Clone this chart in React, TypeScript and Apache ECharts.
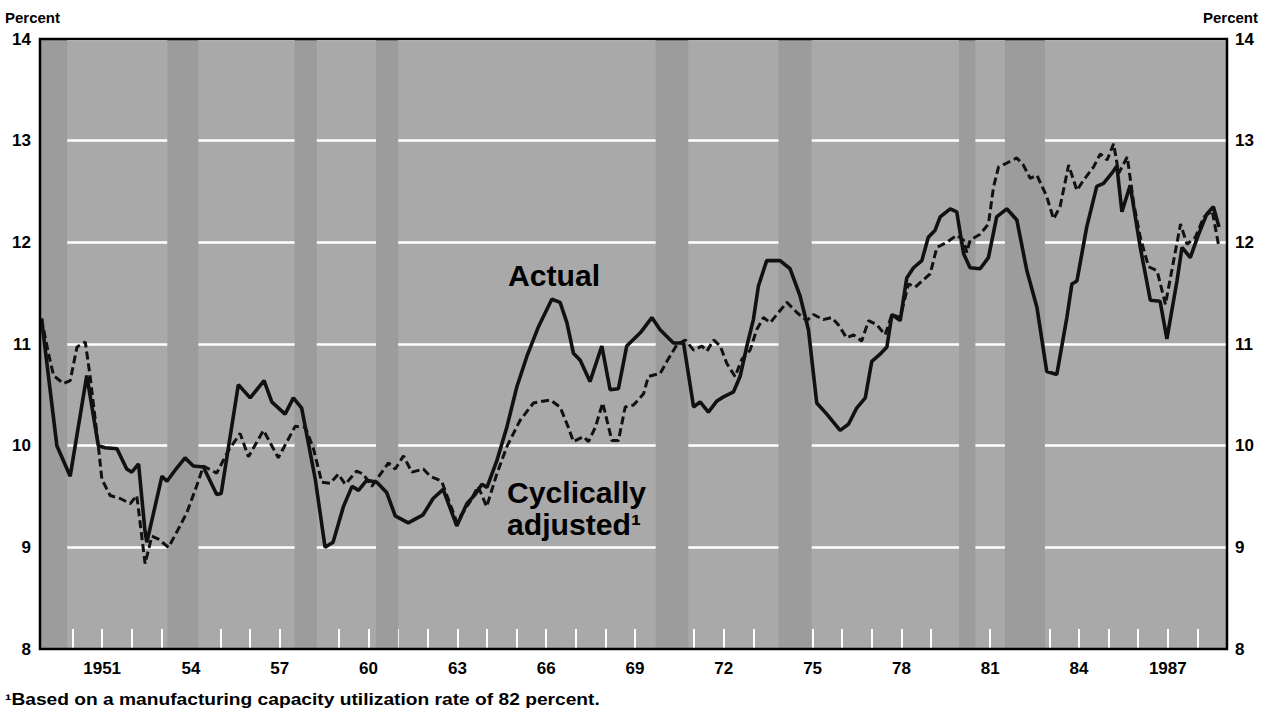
import React, { useEffect, useRef } from "react";
import * as echarts from "echarts";

// Actual series (percent): [year, value]
const actualSeries: [number, number][] = [
  [1948.95, 11.25], [1949.47, 10.0], [1949.92, 9.7], [1950.48, 10.69], [1950.87, 10.0],
  [1951.1, 9.98], [1951.5, 9.97], [1951.83, 9.77], [1952.0, 9.74], [1952.23, 9.82],
  [1952.45, 9.15], [1952.51, 9.05], [1953.02, 9.7], [1953.19, 9.65], [1953.52, 9.78],
  [1953.8, 9.88], [1954.08, 9.8], [1954.42, 9.79], [1954.87, 9.52], [1955.02, 9.53],
  [1955.6, 10.6], [1956.0, 10.47], [1956.47, 10.64], [1956.73, 10.43], [1957.18, 10.31],
  [1957.46, 10.47], [1957.74, 10.37], [1958.2, 9.67], [1958.53, 9.0], [1958.8, 9.05],
  [1959.15, 9.4], [1959.44, 9.6], [1959.66, 9.56], [1959.94, 9.66], [1960.28, 9.64],
  [1960.61, 9.54], [1960.9, 9.31], [1961.34, 9.24], [1961.84, 9.32], [1962.18, 9.48],
  [1962.52, 9.57], [1962.98, 9.21], [1963.32, 9.43], [1963.6, 9.52], [1963.83, 9.62],
  [1964.0, 9.59], [1964.33, 9.85], [1964.67, 10.18], [1965.01, 10.58], [1965.35, 10.88],
  [1965.74, 11.17], [1966.19, 11.44], [1966.47, 11.41], [1966.7, 11.21], [1966.92, 10.91],
  [1967.15, 10.84], [1967.48, 10.63], [1967.88, 10.98], [1968.16, 10.55], [1968.44, 10.56],
  [1968.72, 10.98], [1969.18, 11.11], [1969.57, 11.26], [1969.85, 11.14], [1970.3, 11.01],
  [1970.64, 11.01], [1970.98, 10.38], [1971.2, 10.43], [1971.48, 10.33], [1971.77, 10.44],
  [1971.99, 10.48], [1972.33, 10.53], [1972.55, 10.68], [1972.78, 10.98], [1973.0, 11.24],
  [1973.17, 11.57], [1973.45, 11.82], [1973.9, 11.82], [1974.24, 11.74], [1974.58, 11.47],
  [1974.86, 11.14], [1975.14, 10.42], [1975.48, 10.31], [1975.93, 10.15], [1976.21, 10.21],
  [1976.49, 10.37], [1976.78, 10.47], [1977.0, 10.83], [1977.28, 10.9], [1977.51, 10.97],
  [1977.68, 11.29], [1977.96, 11.23], [1978.18, 11.65], [1978.41, 11.75], [1978.69, 11.82],
  [1978.91, 12.05], [1979.14, 12.12], [1979.31, 12.25], [1979.65, 12.33], [1979.87, 12.3],
  [1980.1, 11.89], [1980.32, 11.75], [1980.66, 11.74], [1980.94, 11.85], [1981.22, 12.25],
  [1981.56, 12.33], [1981.9, 12.22], [1982.24, 11.72], [1982.58, 11.36], [1982.91, 10.73],
  [1983.25, 10.7], [1983.59, 11.26], [1983.76, 11.59], [1983.93, 11.62], [1984.26, 12.15],
  [1984.6, 12.55], [1984.83, 12.58], [1985.11, 12.68], [1985.28, 12.75], [1985.45, 12.3],
  [1985.73, 12.56], [1986.07, 11.95], [1986.41, 11.43], [1986.74, 11.42], [1986.97, 11.05],
  [1987.31, 11.62], [1987.48, 11.95], [1987.76, 11.85], [1988.04, 12.08], [1988.32, 12.28],
  [1988.54, 12.35], [1988.73, 12.15],
];

// Cyclically adjusted series: [year, value]
const adjustedSeries: [number, number][] = [
  [1948.95, 11.25], [1949.19, 10.9], [1949.36, 10.69], [1949.69, 10.61], [1949.92, 10.64],
  [1950.15, 10.97], [1950.43, 11.02], [1950.59, 10.69], [1950.87, 10.0], [1950.99, 9.67],
  [1951.27, 9.51], [1951.61, 9.48], [1951.95, 9.43], [1952.17, 9.51], [1952.45, 8.84],
  [1952.68, 9.11], [1952.9, 9.08], [1953.24, 9.0], [1953.52, 9.15], [1953.86, 9.34],
  [1954.2, 9.61], [1954.42, 9.8], [1954.87, 9.73], [1955.26, 9.95], [1955.66, 10.12],
  [1955.94, 9.89], [1956.45, 10.15], [1956.95, 9.88], [1957.52, 10.19], [1957.86, 10.18],
  [1958.13, 9.98], [1958.42, 9.64], [1958.7, 9.63], [1958.98, 9.72], [1959.21, 9.62],
  [1959.6, 9.75], [1959.82, 9.72], [1960.11, 9.6], [1960.28, 9.67], [1960.67, 9.83],
  [1960.9, 9.77], [1961.18, 9.9], [1961.46, 9.74], [1961.85, 9.77], [1962.08, 9.7],
  [1962.47, 9.65], [1962.98, 9.25], [1963.43, 9.45], [1963.7, 9.6], [1963.99, 9.4],
  [1964.33, 9.72], [1964.67, 9.99], [1965.12, 10.25], [1965.57, 10.42], [1966.14, 10.45],
  [1966.47, 10.38], [1966.75, 10.18], [1966.92, 10.04], [1967.26, 10.09], [1967.43, 10.04],
  [1967.66, 10.18], [1967.91, 10.42], [1968.22, 10.05], [1968.44, 10.05], [1968.67, 10.38],
  [1968.95, 10.4], [1969.29, 10.51], [1969.45, 10.68], [1969.85, 10.71], [1970.08, 10.83],
  [1970.41, 10.99], [1970.7, 11.04], [1970.98, 10.94], [1971.26, 10.98], [1971.43, 10.93],
  [1971.66, 11.04], [1971.88, 10.98], [1972.1, 10.81], [1972.38, 10.68], [1972.61, 10.85],
  [1972.89, 10.94], [1973.11, 11.14], [1973.34, 11.26], [1973.57, 11.21], [1973.85, 11.31],
  [1974.13, 11.41], [1974.47, 11.31], [1974.8, 11.23], [1975.03, 11.29], [1975.36, 11.24],
  [1975.65, 11.26], [1975.87, 11.19], [1976.15, 11.06], [1976.38, 11.09], [1976.66, 11.03],
  [1976.89, 11.23], [1977.17, 11.19], [1977.45, 11.09], [1977.68, 11.29], [1977.96, 11.26],
  [1978.24, 11.59], [1978.47, 11.56], [1978.97, 11.69], [1979.2, 11.95], [1979.53, 12.0],
  [1979.87, 12.07], [1980.1, 12.02], [1980.21, 11.9], [1980.32, 12.02], [1980.66, 12.08],
  [1980.94, 12.18], [1981.11, 12.54], [1981.28, 12.74], [1981.56, 12.78], [1981.9, 12.83],
  [1982.12, 12.76], [1982.35, 12.63], [1982.58, 12.66], [1982.91, 12.45], [1983.14, 12.23],
  [1983.36, 12.35], [1983.65, 12.76], [1983.93, 12.51], [1984.15, 12.61], [1984.49, 12.74],
  [1984.72, 12.87], [1984.95, 12.81], [1985.17, 12.97], [1985.34, 12.68], [1985.63, 12.84],
  [1985.85, 12.38], [1986.07, 12.05], [1986.35, 11.76], [1986.64, 11.72], [1986.92, 11.39],
  [1987.43, 12.18], [1987.65, 11.98], [1987.93, 12.05], [1988.22, 12.25], [1988.5, 12.31],
  [1988.73, 11.95],
];

// Recession periods (darker shading)
const recessions: [number, number][] = [
  [1948.9, 1949.82], [1953.2, 1954.25], [1957.5, 1958.25], [1960.25, 1961.0],
  [1969.7, 1970.8], [1973.85, 1974.97], [1979.95, 1980.5], [1981.5, 1982.85],
];

const xTickYears: number[] = [];
for (let y = 1949; y <= 1988; y++) xTickYears.push(y);
const xLabelYears = [1951, 1954, 1957, 1960, 1963, 1966, 1969, 1972, 1975, 1978, 1981, 1984, 1987];
const xLabelTexts = ["1951", "54", "57", "60", "63", "66", "69", "72", "75", "78", "81", "84", "1987"];

const FONT = "'Liberation Sans', Arial, Helvetica, sans-serif";

export default function App() {
  const ref = useRef<HTMLDivElement>(null);

  useEffect(() => {
    const chart = echarts.init(ref.current!, null, { renderer: "svg" });
    const gridLeft = 40;
    const gridTop = 39;
    const gridW = 1187;
    const gridH = 610;

    const yAxisCommon = {
      type: "value",
      min: 8,
      max: 14,
      interval: 1,
      axisLine: { show: false },
      axisTick: { show: false },
      axisLabel: {
        color: "#000",
        fontFamily: FONT,
        fontWeight: "bold",
        fontSize: 17,
      },
    };

    chart.setOption({
      animation: false,
      backgroundColor: "#ffffff",
      grid: {
        left: gridLeft,
        top: gridTop,
        width: gridW,
        height: gridH,
        show: true,
        backgroundColor: "#a9a9a9",
        borderWidth: 0,
      },
      xAxis: {
        type: "value",
        min: 1948.9,
        max: 1989.0,
        axisLine: { show: false },
        splitLine: { show: false },
        axisTick: {
          show: true,
          inside: true,
          length: 20,
          customValues: xTickYears,
          lineStyle: { color: "#ffffff", width: 2 },
        },
        axisLabel: {
          customValues: xLabelYears,
          formatter: (v: number) => {
            const i = xLabelYears.indexOf(Math.round(v));
            return i >= 0 ? xLabelTexts[i] : "";
          },
          color: "#000",
          fontFamily: FONT,
          fontWeight: "bold",
          fontSize: 17,
          margin: 11,
        },
      },
      yAxis: [
        {
          ...yAxisCommon,
          position: "left",
          axisLabel: { ...yAxisCommon.axisLabel, margin: 9 },
          splitLine: { show: true, lineStyle: { color: "#ffffff", width: 2.5 } },
        },
        {
          ...yAxisCommon,
          position: "right",
          axisLabel: { ...yAxisCommon.axisLabel, margin: 8 },
          splitLine: { show: false },
        },
      ],
      series: [
        {
          type: "line",
          name: "Cyclically adjusted",
          data: adjustedSeries,
          showSymbol: false,
          symbol: "none",
          lineStyle: { color: "#111", width: 3, type: [8, 4] },
          z: 3,
          markArea: {
            silent: true,
            itemStyle: { color: "#9c9c9c", opacity: 1, borderWidth: 0 },
            data: recessions.map(([a, b]) => [{ xAxis: a }, { xAxis: b }]),
          },
        },
        {
          type: "line",
          name: "Actual",
          data: actualSeries,
          showSymbol: false,
          symbol: "none",
          lineStyle: { color: "#111", width: 3.6 },
          z: 4,
        },
      ],
      graphic: [
        {
          type: "rect",
          z: 100,
          silent: true,
          shape: { x: gridLeft, y: gridTop, width: gridW, height: gridH },
          style: { fill: "none", stroke: "#000", lineWidth: 2.5 },
        },
        {
          type: "text",
          z: 100,
          style: { text: "Percent", x: 5, y: 17, fill: "#000", font: `bold 15px ${FONT}`, textAlign: "left", textVerticalAlign: "middle" },
        },
        {
          type: "text",
          z: 100,
          style: { text: "Percent", x: 1258, y: 17, fill: "#000", font: `bold 15px ${FONT}`, textAlign: "right", textVerticalAlign: "middle" },
        },
        {
          type: "text",
          z: 100,
          x: 508,
          y: 276,
          scaleX: 1.04,
          style: { text: "Actual", x: 0, y: 0, fill: "#000", font: `bold 29px ${FONT}`, textAlign: "left", textVerticalAlign: "middle" },
        },
        {
          type: "text",
          z: 100,
          x: 507,
          y: 493,
          scaleX: 1.04,
          style: { text: "Cyclically", x: 0, y: 0, fill: "#000", font: `bold 29px ${FONT}`, textAlign: "left", textVerticalAlign: "middle" },
        },
        {
          type: "text",
          z: 100,
          x: 507,
          y: 525,
          scaleX: 1.04,
          style: { text: "adjusted\u00B9", x: 0, y: 0, fill: "#000", font: `bold 29px ${FONT}`, textAlign: "left", textVerticalAlign: "middle" },
        },
        {
          type: "text",
          z: 100,
          x: 5,
          y: 700,
          scaleX: 1.2,
          style: {
            text: "\u00B9Based on a manufacturing capacity utilization rate of 82 percent.",
            x: 0, y: 0, fill: "#000", font: `bold 16px ${FONT}`, textAlign: "left", textVerticalAlign: "middle",
          },
        },
      ],
    });

    return () => chart.dispose();
  }, []);

  return (
    <div
      ref={ref}
      style={{ position: "absolute", left: 0, top: 0, width: 1263, height: 715, background: "#fff" }}
    />
  );
}
